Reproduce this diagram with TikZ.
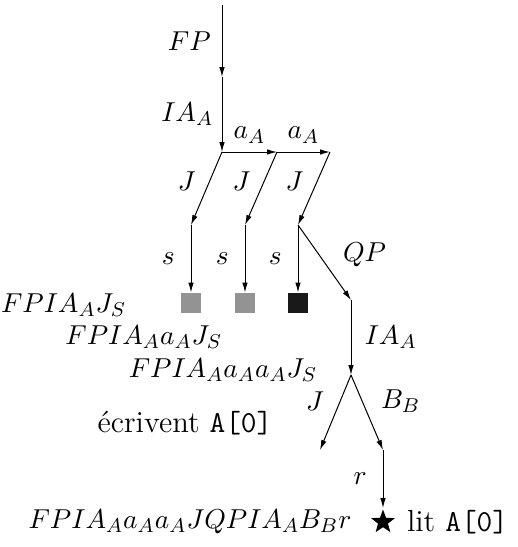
\documentclass[tikz,border=0pt]{standalone}
\usetikzlibrary{arrows.meta,positioning,shapes.geometric}
\tikzset{edge/.style={-{Latex[length=4pt,width=2.2pt]}},
    proc/.style={draw=none,minimum size=8pt,inner sep=0pt},
    every node/.style={font=\fontsize{11}{13}\selectfont},
    note/.style={font=\fontsize{12.2}{14}\selectfont},
    }

\begin{document}
\begin{tikzpicture}[x=0.4pt,y=-0.4pt]
	\useasboundingbox (0,0) rectangle (518,547);
	\coordinate (top) at (222,5);
	\coordinate (fp) at (222,77);
	\coordinate (r0) at (222,152);
	\coordinate (r1) at (277,152);
	\coordinate (r2) at (330,152);
	\coordinate (j0) at (191,225);
	\coordinate (j1) at (245,225);
	\coordinate (j2) at (298,225);
	\node[proc,fill=gray!85] (s0) at (191,303) {};
	\node[proc,fill=gray!85] (s1) at (245,303) {};
	\node[proc,fill=black!90] (s2) at (298,303) {};
	\coordinate (qp) at (351,300);
	\coordinate (ia) at (351,375);
	\coordinate (jw) at (320,450);
	\coordinate (bb) at (383,450);
	\node[star,star points=5,star point ratio=2.4,fill,inner sep=0pt,minimum size=10pt] (st) at (383,522) {};
	% main line
	\draw[edge] (top)--(fp) node[midway,left=1pt]{$FP$};
	\draw[edge] (fp)--(r0) node[midway,left=0pt]{$IA_A$};
	\draw[edge] (r0)--(r1) node[midway,above]{$a_A$};
	\draw[edge] (r1)--(r2) node[midway,above]{$a_A$};
	% writers
	\draw[edge] (r0)--(j0) node[pos=0.4,left=2pt]{$J$};
	\draw[edge] (r1)--(j1) node[pos=0.4,left=2pt]{$J$};
	\draw[edge] (r2)--(j2) node[pos=0.4,left=2pt]{$J$};
	\draw[edge] (j0)--(s0) node[midway,left=3pt]{$s$};
	\draw[edge] (j1)--(s1) node[midway,left=3pt]{$s$};
	\draw[edge] (j2)--(s2) node[midway,left=3pt]{$s$};
	% reader
	\draw[edge] (j2)--(qp) node[pos=0.4,anchor=west,xshift=6pt]{$QP$};
	\draw[edge] (qp)--(ia) node[midway,right=2pt]{$IA_A$};
	\draw[edge] (ia)--(jw) node[pos=0.35,left=3pt]{$J$};
	\draw[edge] (ia)--(bb) node[pos=0.35,right=4pt]{$B_B$};
	\draw[edge] (bb)--(st) node[midway,left=3pt]{$r$};
	% runs
	\node[anchor=east] (w0) at (135,305) {$FPIA_AJ_S$};
	\node[anchor=east] (w1) at (231,337) {$FPIA_Aa_AJ_S$};
	\node[anchor=east] (w2) at (326,370) {$FPIA_Aa_Aa_AJ_S$};
	\node[note] (wr) at (185,423) {écrivent \texttt{A[0]}};
	\node[left=6pt of st] (run) {$FPIA_Aa_Aa_AJQPIA_AB_Br$};
	\node[note,right=3pt of st] (rd) {lit \texttt{A[0]}};
\end{tikzpicture}
\end{document}
